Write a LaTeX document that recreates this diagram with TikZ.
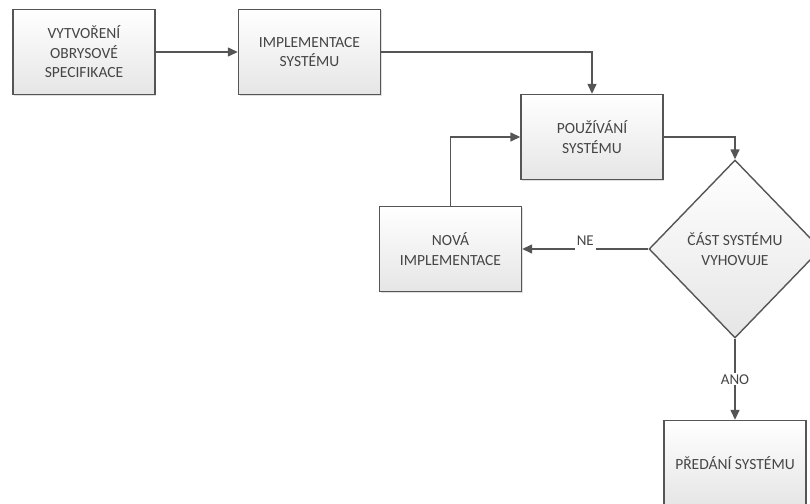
\documentclass[tikz,border=0pt]{standalone}
\usepackage{fontspec}
\setmainfont{Carlito}
\usetikzlibrary{shapes.geometric,arrows.meta,shadows}
\definecolor{edgegray}{HTML}{555555}
\definecolor{txtgray}{HTML}{454545}
\tikzset{
  boxtext/.style={text=txtgray, font=\fontsize{15.5}{19.5}\selectfont, align=center},
  stepbox/.style={boxtext, draw=edgegray, line width=1.4pt, top color=white, bottom color=black!10,
    minimum width=142pt, minimum height=85pt, inner sep=0pt,
    drop shadow={shadow xshift=1pt, shadow yshift=-1pt, opacity=0.25}},
  decision/.style={boxtext, draw=edgegray, line width=1.4pt, diamond, top color=white, bottom color=black!10,
    minimum width=172pt, minimum height=178pt, inner sep=0pt},
  link/.style={draw=edgegray, line width=1.4pt, -{Triangle[length=10pt,width=9pt]}},
  lbl/.style={fill=white, text=txtgray, font=\fontsize{15}{16}\selectfont, inner xsep=2pt, inner ysep=1pt}
}
\begin{document}
\begin{tikzpicture}[x=1pt,y=-1pt]
\useasboundingbox (0,0) rectangle (810,503);
\fill[white] (0,0) rectangle (810,503);
\node[stepbox] (spec) at (84,52) {VYTVOŘENÍ\\OBRYSOVÉ\\SPECIFIKACE};
\node[stepbox] (impl) at (309.5,52) {IMPLEMENTACE\\SYSTÉMU};
\node[stepbox] (use) at (592,137) {POUŽÍVÁNÍ\\SYSTÉMU};
\node[stepbox] (newimpl) at (450.5,249) {NOVÁ\\IMPLEMENTACE};
\node[decision] (check) at (735,249) {ČÁST SYSTÉMU\\VYHOVUJE};
\node[stepbox] (handover) at (735,463) {PŘEDÁNÍ SYSTÉMU};

\draw[link] (spec.east) -- (impl.west);
\draw[link] (impl.east) -| (use.north);
\draw[link] (use.east) -| (check.north);
\draw[link] (check.west) -- node[lbl, pos=0.5, anchor=base, yshift=4pt, text depth=6pt] (ne) {NE} (newimpl.east);
\draw[link] (newimpl.north) |- (use.west);
\draw[link] (check.south) -- node[lbl, pos=0.5] (ano) {ANO} (handover.north);
\end{tikzpicture}
\end{document}
